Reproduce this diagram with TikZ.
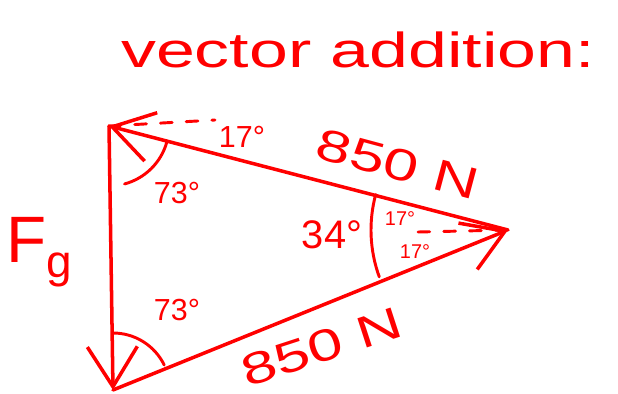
\documentclass[tikz,border=0pt]{standalone}
\usepackage{fontspec}
\setmainfont{Liberation Sans}
\usepackage{tikz}
\usetikzlibrary{arrows.meta}
\usepackage{xcolor}
\definecolor{InkRed}{HTML}{FF0000}

\begin{document}
\begin{tikzpicture}[x=0.03cm, y=-0.03cm, line cap=round, line join=round,
		vec/.style={InkRed, line width=3pt, -{Straight Barb[length=1.2cm, width=1.5cm]}},
		ang/.style={InkRed, line width=2.5pt},
		guide/.style={InkRed, line width=2.5pt, dash pattern=on 10pt off 12pt},
		lbl/.style={text=InkRed, inner sep=0pt}]
					\useasboundingbox (0,0) rectangle (618,394);
					\coordinate (A) at (109,126);
					\coordinate (B) at (113,390);
					\coordinate (C) at (508,230);
					\coordinate (hA) at (215,120);
					\coordinate (hC) at (418,232);
					% triangle of forces
					\draw[vec] (A) -- (B);
					\draw[vec] (B) -- (C);
					\draw[vec] (C) -- (A);
					\draw[guide] (A) -- (hA);
					\draw[guide] (hC) -- (C);
					% angles
					\draw[ang] (A) ++(75:60) arc[start angle=75, end angle=16, radius=60];
					\draw[ang] (B) ++(-90:57) arc[start angle=-90, end angle=-26, radius=57];
					\draw[ang] (C) ++(195:137) arc[start angle=195, end angle=160, radius=137];
					% labels
					\node[lbl, anchor=base, font=\fontsize{42}{42}\selectfont, xscale=1.42] (title) at (358,68) {vector addition:};
					\node[lbl, font=\fontsize{26}{26}\selectfont] (angA) at (242,137) {17°};
					\node[lbl, font=\fontsize{26}{26}\selectfont] (topA) at (177,193) {73°};
					\node[lbl, font=\fontsize{26}{26}\selectfont] (topB) at (177,310) {73°};
					\node[lbl, font=\fontsize{34}{34}\selectfont] (angC) at (332,235) {34°};
					\node[lbl, font=\fontsize{17}{17}\selectfont] (upC) at (400,219) {17°};
					\node[lbl, font=\fontsize{17}{17}\selectfont] (lowC) at (415,252) {17°};
					\node[lbl, rotate=-15, xscale=1.4, font=\fontsize{38}{38}\selectfont] (forceAC) at (398,164) {850 N};
					\node[lbl, rotate=18, xscale=1.4, font=\fontsize{38}{38}\selectfont] (forceBC) at (322,347) {850 N};
					\node[lbl, font=\fontsize{56}{56}\selectfont] (weight) at (40,252) {F\textsubscript{g}};
				\end{tikzpicture}
\end{document}
